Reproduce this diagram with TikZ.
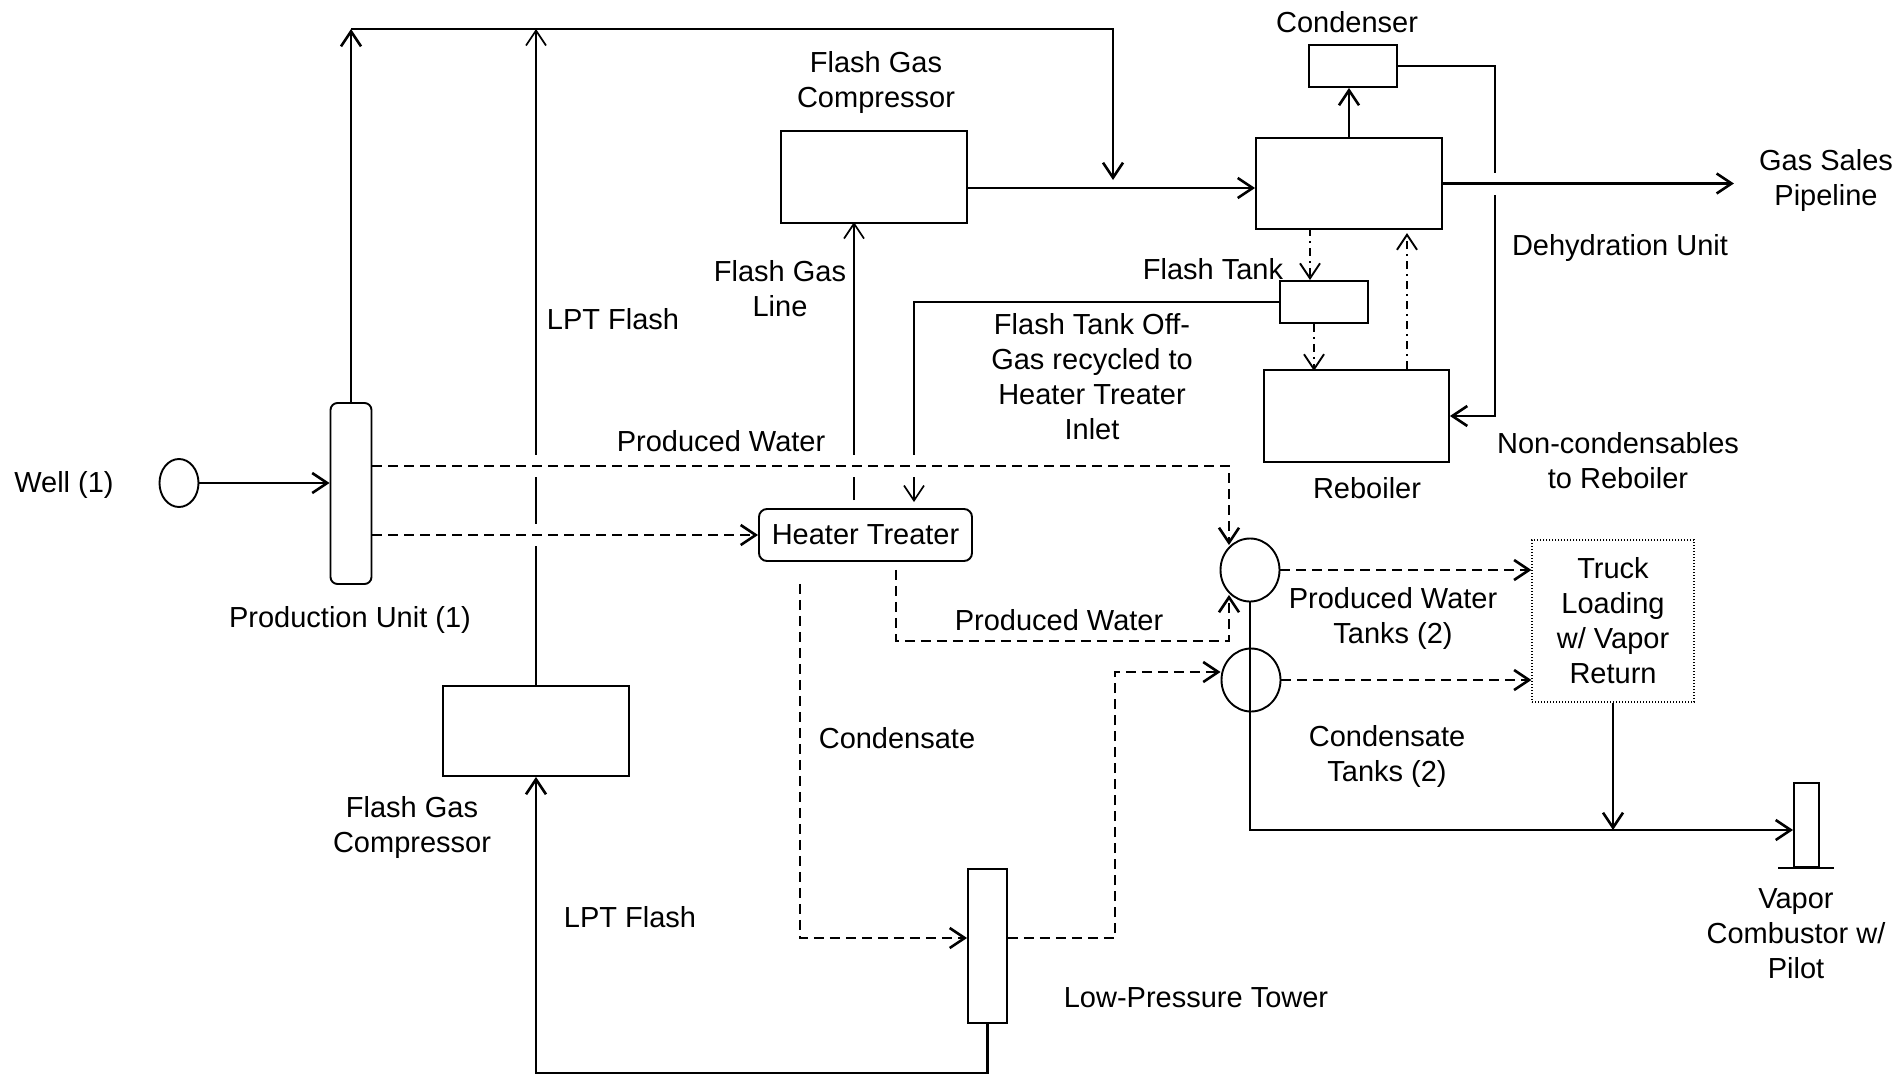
\documentclass[tikz,border=0pt]{standalone}
\usepackage{fontspec}
\setmainfont{Liberation Sans}
\usetikzlibrary{arrows.meta,shapes.geometric}
\begin{document}
\begin{tikzpicture}[x=1pt,y=-1pt,
        >={Straight Barb[length=15pt,width=20pt]},
        every node/.style={font=\fontsize{29}{35}\selectfont},
        box/.style={draw,line width=1.9pt,inner sep=0pt},
        tank/.style={draw,ellipse,line width=1.9pt,inner sep=0pt},
        txt/.style={align=center,inner sep=0pt},
        pipe/.style={line width=2.6pt},
        gasline/.style={line width=1.7pt},
        liquid/.style={line width=2.6pt,dash pattern=on 10pt off 6pt},
        glycol/.style={line width=1.9pt,dash pattern=on 8pt off 5pt on 2pt off 5pt},
        bridge/.style={preaction={draw=white,solid,-,line width=22pt,shorten <=8pt,shorten >=8pt}}]
        \fill[white](0,0)rectangle(1902,1076);
        \useasboundingbox(0,0)rectangle(1902,1076);
        % units
        \node[tank,minimum width=39pt,minimum height=48pt](well)at(179,483){};
        \node[box,rounded corners=7pt,minimum width=41pt,minimum height=181pt](prod)at(351,493.5){};
        \node[box,minimum width=186pt,minimum height=92pt](fgc)at(874,177){};
        \node[box,minimum width=186pt,minimum height=90pt](lpc)at(536,731){};
        \node[box,minimum width=186pt,minimum height=91pt](dehy)at(1349,183.5){};
        \node[box,minimum width=88pt,minimum height=42pt](cond)at(1353,66){};
        \node[box,minimum width=88pt,minimum height=42pt](ftank)at(1324,302){};
        \node[box,minimum width=185pt,minimum height=92pt](reb)at(1356.5,416){};
        \node[box,rounded corners=8pt,minimum width=213pt,minimum height=52pt](heater)at(865.5,535){Heater Treater};
        \node[tank,minimum width=59pt,minimum height=63pt](pwt)at(1250,570){};
        \node[tank,minimum width=59pt,minimum height=63pt](ct)at(1251,680){};
        \node[box,txt,line width=1.2pt,dash pattern=on 1.2pt off 1.8pt,minimum width=162pt,minimum height=162pt](truck)at(1613,621){Truck\\Loading\\w/ Vapor\\Return};
        \node[box,minimum width=25pt,minimum height=84pt](vc)at(1806.5,825){};
        \node[box,minimum width=39pt,minimum height=154pt](lpt)at(987.5,946){};
        \coordinate(hdr)at(351,29);
        \coordinate(mix)at(1113,188);
        \coordinate(pw)at(1229,466);
        \coordinate(pw2)at(1229,641);
        \coordinate(sump)at(1250,830);
        % gas side
        \draw[pipe,->](well.east)--(well.east -| prod.west);
        \draw[pipe,->](prod.north)--(hdr);
        \draw[pipe,->](hdr)--(hdr -| mix)--([yshift=8pt]mix);
        \draw[gasline,->](lpc.north)--(lpc.north |- hdr);
        \draw[pipe,->](fgc.east |- mix)--(dehy.west |- mix);
        \draw[gasline,->]([shift={(-11.5pt,8pt)}]heater.north)--++(0,-278);
        \draw[gasline,->](ftank.west)-|([shift={(48.5pt,6pt)}]heater.north);
        \draw[pipe,->](dehy.north)--(dehy.north |- cond.south);
        \draw[pipe,->](cond.east)--++(97,0)|-(reb.east);
        \draw[pipe,->,bridge](dehy.east)--++(291,0);
        \draw[glycol,->]([xshift=-14pt]ftank.north)++(0,-52)--([xshift=-14pt]ftank.north);
        \draw[glycol,->]([xshift=-10pt]ftank.south)--++(0,47);
        \draw[glycol,->]([xshift=50.5pt]reb.north)--++(0,-136);
        % liquid side
        \draw[liquid,->,bridge]([yshift=27.5pt]prod.east)--(pw)--(pw |- pwt.128);
        \draw[liquid,->,bridge]([yshift=-41.5pt]prod.east)--(heater.west);
        \draw[liquid,->]([shift={(-65.5pt,-22pt)}]heater.south)|-([yshift=8pt]lpt.west);
        \draw[liquid,->]([shift={(30.5pt,-8pt)}]heater.south)|-(pw2)--(pw2 |- pwt.232);
        \draw[liquid,->]([yshift=8pt]lpt.east)--++(107,0)|-([yshift=8pt]ct.west);
        \draw[liquid,->](pwt.east)--(pwt.east -| truck.west);
        \draw[liquid,->](ct.east)--(ct.east -| truck.west);
        \draw[pipe,->](lpt.south)--++(0,49)-|(lpc.south);
        \draw[pipe,->](pwt.south)--(sump)--(sump -| vc.west);
        \draw[pipe,->](truck.south)--(truck.south |- sump);
        \draw[pipe]([xshift=-15pt]vc.south west)--([xshift=14pt]vc.south east);
        % labels
        \node[txt](welllbl)at(64,485){Well (1)};
        \node[txt](prodlbl)at(350,620){Production Unit (1)};
        \node[txt](fgclbl)at(876,83){Flash Gas\\Compressor};
        \node[txt](fgllbl)at(780,289){Flash Gas\\Line};
        \node[txt](lpt1lbl)at(613,319){LPT Flash};
        \node[txt](pw1lbl)at(721,441){Produced Water};
        \node[txt](condlbl)at(1347,22){Condenser};
        \node[txt](saleslbl)at(1826,180){Gas Sales\\Pipeline};
        \node[txt](dehylbl)at(1620,248){Dehydration Unit};
        \node[txt](ftlbl)at(1213,269){Flash Tank};
        \node[txt](offgaslbl)at(1092,377){Flash Tank Off-\\Gas recycled to\\Heater Treater\\Inlet};
        \node[txt](reblbl)at(1367,488){Reboiler};
        \node[txt](nclbl)at(1618,461){Non-condensables\\to Reboiler};
        \node[txt](pwtlbl)at(1393,618){Produced Water\\Tanks (2)};
        \node[txt](ctlbl)at(1387,756){Condensate\\Tanks (2)};
        \node[txt](pw2lbl)at(1059,620){Produced Water};
        \node[txt](cdlbl)at(897,738){Condensate};
        \node[txt](lpclbl)at(412,827){Flash Gas\\Compressor};
        \node[txt](lpt2lbl)at(630,917){LPT Flash};
        \node[txt](lptlbl)at(1196,998){Low-Pressure Tower};
        \node[txt](vclbl)at(1796,934){Vapor\\Combustor w/\\Pilot};
    \end{tikzpicture}
\end{document}
